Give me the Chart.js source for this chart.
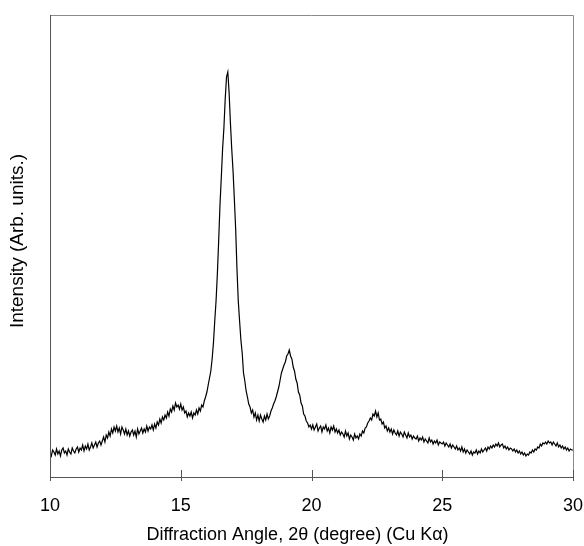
<!DOCTYPE html>
<html>
<head>
<meta charset="utf-8">
<script src="https://cdn.jsdelivr.net/npm/chart.js@4"></script>
<style>
  html, body { margin: 0; padding: 0; background: #fff; overflow: hidden; }
  #wrap { width: 584px; height: 546px; position: relative; }
  canvas { display: block; }
</style>
</head>
<body>
<div id="wrap"><canvas id="xrd"></canvas></div>
<script>
  // 2-theta sampling of the scan (degrees)
  const angleStart = 10;
  const angleStep = 0.05;
  const xTicks = [10, 15, 20, 25, 30];
  const xTitle = 'Diffraction Angle, 2\u03b8 (degree) (Cu K\u03b1)';
  const yTitle = 'Intensity (Arb. units.)';

  // intensity, one row per degree (20 samples each)
  const intensity = [
    24, 21, 27, 25, 22, 28, 23, 26, 21, 27, 29, 24, 26, 22, 28, 25, 23, 29, 26, 24,
    28, 30, 25, 29, 27, 32, 26, 31, 28, 33, 27, 30, 34, 29, 32, 35, 30, 34, 36, 32,
    36, 40, 35, 42, 39, 45, 41, 48, 44, 50, 46, 51, 45, 49, 43, 50, 47, 43, 48, 42,
    46, 41, 45, 47, 42, 46, 40, 48, 43, 46, 49, 44, 48, 45, 51, 46, 50, 48, 52, 47,
    53, 49, 55, 52, 58, 54, 60, 57, 62, 59, 65, 61, 68, 65, 71, 67, 74, 70, 72, 68,
    73, 67, 70, 64, 66, 60, 64, 61, 65, 59, 64, 62, 67, 63, 69, 66, 72, 70, 76, 80,
    85, 92, 99, 106, 118, 134, 156, 176, 203, 236, 272, 299, 328, 349, 378, 400, 405, 384, 354, 328,
    306, 278, 248, 208, 176, 156, 137, 124, 104, 96, 86, 80, 73, 70, 64, 67, 60, 64, 57, 62,
    56, 62, 58, 55, 61, 57, 63, 58, 61, 66, 69, 73, 76, 80, 85, 90, 97, 104, 108, 112,
    115, 121, 123, 127, 121, 118, 110, 106, 98, 94, 85, 82, 74, 71, 63, 61, 56, 54, 50, 52,
    48, 52, 47, 50, 53, 46, 49, 51, 45, 50, 48, 52, 46, 49, 44, 50, 47, 51, 45, 48,
    44, 47, 42, 45, 43, 40, 46, 41, 44, 38, 42, 40, 37, 43, 39, 41, 38, 43, 41, 46,
    44, 49, 50, 54, 56, 59, 57, 63, 61, 66, 60, 64, 57, 58, 53, 55, 49, 51, 46, 49,
    45, 48, 43, 47, 44, 42, 46, 41, 45, 43, 40, 45, 42, 39, 44, 40, 42, 38, 41, 39,
    38, 41, 36, 39, 37, 40, 35, 38, 36, 34, 39, 35, 37, 33, 36, 34, 37, 32, 35, 34,
    33, 35, 31, 34, 32, 30, 33, 29, 32, 30, 28, 31, 27, 29, 26, 30, 25, 28, 24, 27,
    25, 23, 26, 22, 25, 24, 27, 23, 26, 24, 28, 25, 27, 29, 26, 30, 28, 31, 29, 32,
    30, 33, 31, 34, 30, 32, 33, 29, 31, 28, 30, 27, 29, 28, 26, 28, 25, 27, 24, 26,
    23, 25, 22, 24, 21, 23, 22, 25, 24, 27, 25, 28, 27, 30, 29, 33, 31, 34, 33, 35,
    33, 36, 34, 35, 32, 35, 33, 31, 34, 30, 32, 29, 31, 28, 30, 27, 29, 26, 28, 27,
    27
  ];

  const points = intensity.map((v, i) => ({ x: angleStart + i * angleStep, y: v }));

  const plotFont = "'Liberation Sans', Arial, sans-serif";

  // frame, ticks crossing the bottom axis, and the two axis titles
  // (titles are centred on the figure, not on the plot box)
  const framePlugin = {
    id: 'frame',
    afterDraw(chart) {
      const { ctx, chartArea: a, scales: { x } } = chart;
      ctx.save();
      ctx.lineWidth = 1;
      ctx.strokeStyle = '#8a8a8a';
      ctx.beginPath();
      ctx.moveTo(a.left, a.top + 0.5);
      ctx.lineTo(a.right + 0.5, a.top + 0.5);
      ctx.lineTo(a.right + 0.5, a.bottom);
      ctx.stroke();
      ctx.strokeStyle = '#555';
      ctx.beginPath();
      ctx.moveTo(a.left + 0.5, a.top);
      ctx.lineTo(a.left + 0.5, a.bottom + 0.5);
      ctx.lineTo(a.right + 0.5, a.bottom + 0.5);
      ctx.stroke();
      ctx.beginPath();
      xTicks.forEach(t => {
        const px = Math.round(x.getPixelForValue(t)) + 0.5;
        ctx.moveTo(px, a.bottom - 7);
        ctx.lineTo(px, a.bottom + 4);
      });
      ctx.stroke();

      ctx.fillStyle = '#000';
      ctx.textAlign = 'center';
      ctx.textBaseline = 'middle';
      ctx.font = `18px ${plotFont}`;
      ctx.fillText(xTitle, (a.left + a.right) / 2 - 14, chart.height - 11);
      ctx.translate(18, (a.top + a.bottom) / 2 - 5);
      ctx.rotate(-Math.PI / 2);
      ctx.font = `19px ${plotFont}`;
      ctx.fillText(yTitle, 0, 0);
      ctx.restore();
    }
  };

  new Chart(document.getElementById('xrd').getContext('2d'), {
    type: 'line',
    data: {
      datasets: [
        {
          data: points,
          borderColor: '#000',
          borderWidth: 1.2,
          pointRadius: 0,
          tension: 0,
        }
      ]
    },
    options: {
      responsive: true,
      maintainAspectRatio: false,
      animation: false,
      layout: { autoPadding: false, padding: { top: 15, right: 11, bottom: 0, left: 0 } },
      plugins: {
        legend: { display: false },
        tooltip: { enabled: false },
      },
      scales: {
        x: {
          type: 'linear',
          min: 10,
          max: 30,
          afterBuildTicks: (scale) => { scale.ticks = xTicks.map(value => ({ value })); },
          afterFit: (scale) => {
            scale.height = 69;
            scale.paddingLeft = 0;
            scale.paddingRight = 0;
          },
          grid: { display: false, drawTicks: false },
          border: { display: false },
          ticks: {
            color: '#000',
            padding: 18,
            font: { family: plotFont, size: 18 },
            maxRotation: 0,
          },
          title: { display: false }
        },
        y: {
          min: 0,
          max: 462,
          afterFit: (scale) => {
            scale.width = 50;
            scale.paddingTop = 0;
            scale.paddingBottom = 0;
          },
          grid: { display: false, drawTicks: false },
          border: { display: false },
          ticks: { display: false },
          title: { display: false }
        }
      }
    },
    plugins: [framePlugin]
  });
</script>
</body>
</html>
